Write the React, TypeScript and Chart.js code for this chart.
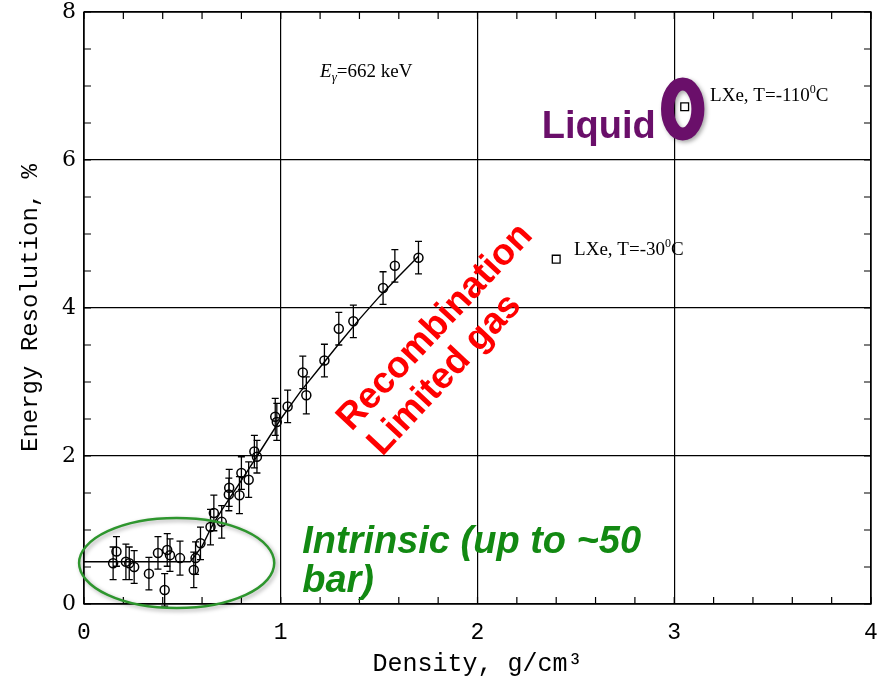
import React, { useEffect, useRef } from "react";
import { Chart, registerables } from "chart.js";

Chart.register(...registerables);

// ---- data ----
const gasDensity = [
  0.148, 0.165, 0.213, 0.23, 0.255, 0.33, 0.376, 0.41, 0.423, 0.437, 0.488,
  0.558, 0.567, 0.592, 0.643, 0.66, 0.7, 0.736, 0.738, 0.79, 0.8, 0.837, 0.866,
  0.879, 0.972, 0.98, 1.035, 1.112, 1.13, 1.222, 1.295, 1.369, 1.52, 1.58, 1.7,
];
const gasResolution = [
  0.55, 0.71, 0.57, 0.55, 0.5, 0.41, 0.69, 0.19, 0.73, 0.66, 0.62,
  0.46, 0.62, 0.82, 1.04, 1.23, 1.11, 1.48, 1.57, 1.47, 1.77, 1.68, 2.06,
  1.99, 2.53, 2.46, 2.67, 3.13, 2.82, 3.29, 3.72, 3.82, 4.27, 4.57, 4.68,
];
const gasError = [
  0.22, 0.2, 0.24, 0.22, 0.22, 0.22, 0.22, 0.22, 0.22, 0.22, 0.23,
  0.24, 0.22, 0.22, 0.24, 0.24, 0.22, 0.22, 0.25, 0.25, 0.22, 0.24, 0.22,
  0.22, 0.25, 0.25, 0.22, 0.22, 0.25, 0.22, 0.22, 0.22, 0.22, 0.22, 0.22,
];
const curveDensity = [0, 0.54, 0.6, 0.65, 0.7, 0.8, 0.88, 1.0, 1.1, 1.2, 1.3, 1.4, 1.5, 1.6, 1.7];
const curveResolution = [0.57, 0.57, 0.78, 1.05, 1.27, 1.67, 2.0, 2.5, 2.87, 3.2, 3.53, 3.85, 4.15, 4.43, 4.7];
const liquidDensity = [2.4, 3.053];
const liquidResolution = [4.66, 6.72];
const xTickLabels = ["0", "1", "2", "3", "4"];
const yTickLabels = ["0", "2", "4", "6", "8"];

const PURPLE = "#6a0f6a";
const GREEN_TEXT = "#128912";
const GREEN_LINE = "#2e962e";
const RED = "#ff0000";

function drawRich(ctx: CanvasRenderingContext2D, x: number, y: number, parts: { t: string; f: string; dy?: number }[]) {
  let cx = x;
  ctx.textAlign = "left";
  ctx.textBaseline = "alphabetic";
  for (const p of parts) {
    ctx.font = p.f;
    ctx.fillText(p.t, cx, y + (p.dy || 0));
    cx += ctx.measureText(p.t).width;
  }
}

const overlay = {
  id: "overlay",
  beforeDatasetsDraw(chart: any) {
    const { ctx, chartArea: a, scales } = chart;
    const xs = scales.x;
    const ys = scales.y;
    ctx.save();
    ctx.strokeStyle = "#000";
    ctx.lineWidth = 1.4;
    ctx.strokeRect(a.left, a.top, a.right - a.left, a.bottom - a.top);
    ctx.lineWidth = 1.2;
    ctx.beginPath();
    for (let v = 0; v <= 8.001; v += 0.5) {
      const py = ys.getPixelForValue(v);
      ctx.moveTo(a.left, py);
      ctx.lineTo(a.left + 7, py);
      ctx.moveTo(a.right, py);
      ctx.lineTo(a.right - 7, py);
    }
    for (let v = 0; v <= 4.001; v += 0.2) {
      const px = xs.getPixelForValue(v);
      ctx.moveTo(px, a.bottom);
      ctx.lineTo(px, a.bottom - 7);
      ctx.moveTo(px, a.top);
      ctx.lineTo(px, a.top + 7);
    }
    ctx.stroke();
    // error bars
    ctx.lineWidth = 1.3;
    ctx.beginPath();
    for (let i = 0; i < gasDensity.length; i++) {
      const px = xs.getPixelForValue(gasDensity[i]);
      const p1 = ys.getPixelForValue(gasResolution[i] + gasError[i]);
      const p2 = ys.getPixelForValue(gasResolution[i] - gasError[i]);
      ctx.moveTo(px, p1);
      ctx.lineTo(px, p2);
      ctx.moveTo(px - 3.5, p1);
      ctx.lineTo(px + 3.5, p1);
      ctx.moveTo(px - 3.5, p2);
      ctx.lineTo(px + 3.5, p2);
    }
    ctx.stroke();
    ctx.restore();
  },
  afterDraw(chart: any) {
    const { ctx, scales } = chart;
    const xs = scales.x;
    const ys = scales.y;
    const X = (v: number) => xs.getPixelForValue(v);
    const Y = (v: number) => ys.getPixelForValue(v);
    ctx.save();
    ctx.fillStyle = "#000";
    const serif = '"Liberation Serif", "Times New Roman", serif';
    drawRich(ctx, X(2.491), Y(4.716), [
      { t: "LXe, T=-30", f: `19px ${serif}` },
      { t: "0", f: `12px ${serif}`, dy: -8 },
      { t: "C", f: `19px ${serif}` },
    ]);
    drawRich(ctx, X(3.182), Y(6.8), [
      { t: "LXe, T=-110", f: `19px ${serif}` },
      { t: "0", f: `12px ${serif}`, dy: -8 },
      { t: "C", f: `19px ${serif}` },
    ]);
    drawRich(ctx, X(1.2), Y(7.125), [
      { t: "E", f: `italic 19px ${serif}` },
      { t: "\u03b3", f: `italic 13px ${serif}`, dy: 4 },
      { t: "=662 keV", f: `19px ${serif}` },
    ]);

    const sans = '"Liberation Sans", Arial, sans-serif';
    // green ellipse
    ctx.save();
    ctx.shadowColor = "rgba(0,0,0,0.35)";
    ctx.shadowBlur = 4;
    ctx.shadowOffsetX = 2;
    ctx.shadowOffsetY = 2;
    ctx.strokeStyle = GREEN_LINE;
    ctx.lineWidth = 2.5;
    ctx.beginPath();
    const cx = X(0.471), cy = Y(0.554);
    ctx.ellipse(cx, cy, X(0.471 + 0.496) - cx, cy - Y(0.554 + 0.608), 0, 0, Math.PI * 2);
    ctx.stroke();
    // purple ring
    ctx.strokeStyle = PURPLE;
    ctx.lineWidth = 13;
    ctx.beginPath();
    const px = X(3.043), py = Y(6.69);
    ctx.ellipse(px, py, 15.2, 25, 0, 0, Math.PI * 2);
    ctx.stroke();
    ctx.restore();

    ctx.fillStyle = PURPLE;
    ctx.font = `bold 38px ${sans}`;
    ctx.textAlign = "right";
    ctx.textBaseline = "alphabetic";
    ctx.fillText("Liquid", X(2.906), Y(6.3));

    ctx.fillStyle = GREEN_TEXT;
    ctx.font = `italic bold 38px ${sans}`;
    ctx.textAlign = "left";
    ctx.fillText("Intrinsic (up to ~50", X(1.109), Y(0.69));
    ctx.fillText("bar)", X(1.109), Y(0.16));

    ctx.fillStyle = RED;
    ctx.font = `bold 37px ${sans}`;
    ctx.textBaseline = "middle";
    const ang = (-47 * Math.PI) / 180;
    ctx.save();
    ctx.translate(X(1.322), Y(2.42));
    ctx.rotate(ang);
    ctx.fillText("Recombination", 0, 0);
    ctx.restore();
    ctx.save();
    ctx.translate(X(1.478), Y(2.08));
    ctx.rotate(ang);
    ctx.fillText("Limited gas", 0, 0);
    ctx.restore();

    ctx.restore();
  },
};

export default function App() {
  const ref = useRef<HTMLCanvasElement | null>(null);
  useEffect(() => {
    if (!ref.current) return;
    const chart = new Chart(ref.current, {
      type: "scatter",
      data: {
        datasets: [
          {
            type: "line",
            data: curveDensity.map((x, i) => ({ x, y: curveResolution[i] })),
            borderColor: "#000",
            borderWidth: 1.4,
            pointRadius: 0,
            fill: false,
            tension: 0,
          } as any,
          {
            data: gasDensity.map((x, i) => ({ x, y: gasResolution[i] })),
            pointStyle: "circle",
            pointRadius: 4.5,
            borderColor: "#000",
            borderWidth: 1.5,
            backgroundColor: "rgba(0,0,0,0)",
          },
          {
            data: liquidDensity.map((x, i) => ({ x, y: liquidResolution[i] })),
            pointStyle: "rect",
            pointRadius: 5.5,
            borderColor: "#000",
            borderWidth: 1.3,
            backgroundColor: "#fff",
          },
        ],
      },
      options: {
        responsive: false,
        animation: false,
        layout: { padding: { top: 12, right: 18, left: 0, bottom: 0 } },
        plugins: { legend: { display: false }, tooltip: { enabled: false } },
        scales: {
          x: {
            type: "linear",
            min: 0,
            max: 4,
            afterFit: (s: any) => {
              s.height = 80;
              s.paddingLeft = 0;
              s.paddingRight = 0;
            },
            ticks: {
              stepSize: 1,
              color: "#000",
              padding: 15,
              font: { family: '"Liberation Mono", monospace', size: 23 },
              callback: (v: any) => xTickLabels[Math.round(v)] ?? "",
            },
            grid: { color: "#000", lineWidth: 1.2, drawTicks: false },
            border: { display: false },
            title: {
              display: true,
              text: "Density, g/cm\u00b3",
              color: "#000",
              font: { family: '"Liberation Mono", monospace', size: 25 },
              padding: { top: 0, bottom: 5 },
            },
          },
          y: {
            type: "linear",
            min: 0,
            max: 8,
            afterFit: (s: any) => {
              s.width = 84;
              s.paddingTop = 0;
              s.paddingBottom = 0;
            },
            ticks: {
              stepSize: 2,
              color: "#000",
              padding: 8,
              font: { family: '"DejaVu Serif", serif', size: 22 },
              callback: (v: any) => yTickLabels[Math.round(v / 2)] ?? "",
            },
            grid: { color: "#000", lineWidth: 1.2, drawTicks: false },
            border: { display: false },
            title: {
              display: true,
              text: "Energy Resolution, %",
              color: "#000",
              font: { family: '"Liberation Mono", monospace', size: 24 },
              padding: { top: 16, bottom: 0 },
            },
          },
        },
      },
      plugins: [overlay],
    } as any);
    return () => chart.destroy();
  }, []);
  return (
    <div style={{ position: "fixed", left: 0, top: 0, width: 889, height: 684, background: "#fff" }}>
      <canvas ref={ref} width={889} height={684} style={{ width: 889, height: 684, display: "block" }} />
    </div>
  );
}
